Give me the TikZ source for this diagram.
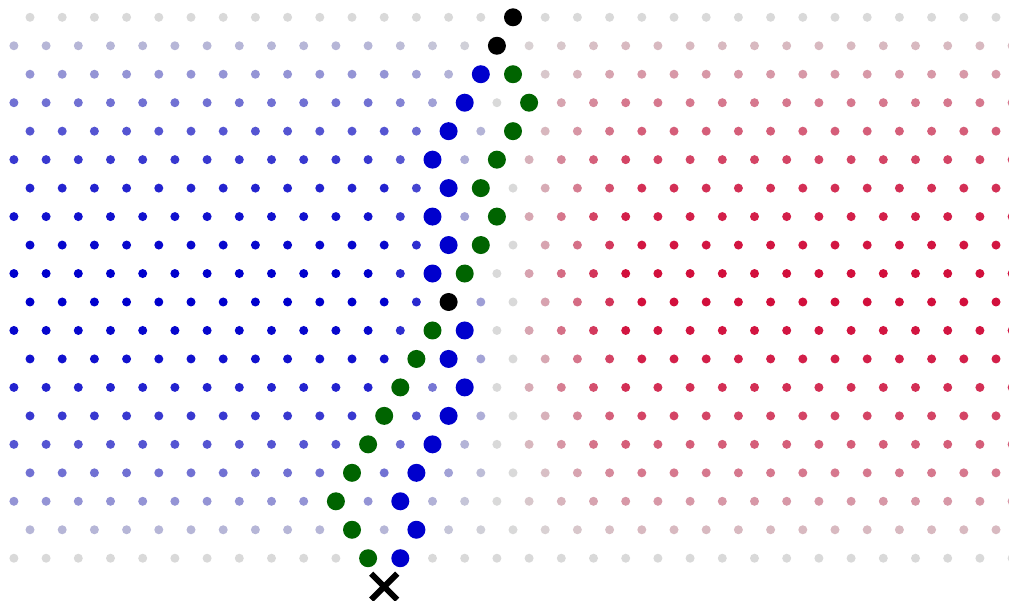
\documentclass[tikz,border=0pt]{standalone}
\usetikzlibrary{shapes.misc}
\definecolor{dotgray}{RGB}{217,217,217}
\definecolor{dotblue}{RGB}{0,0,205}
\definecolor{dotred}{RGB}{210,15,60}
\definecolor{pathgreen}{RGB}{0,100,0}
\begin{document}
\begin{tikzpicture}[x=1pt,y=-1pt,
  bigdot/.style={circle,inner sep=0pt,minimum size=18pt},
  startmark/.style={cross out,draw=black,line width=6pt,inner sep=0pt,minimum size=20pt}]
\useasboundingbox (0,0) rectangle (1009,601);
\begin{scope}
\clip (0,0) rectangle (1009,601);
\foreach \r in {0,...,19}{
  \pgfmathsetmacro{\rf}{sin(180*\r/19)}
  \pgfmathtruncatemacro{\rp}{mod(\r,2)}
  \pgfmathsetmacro{\xo}{\rp==0 ? 30 : 13.9}
  \pgfmathtruncatemacro{\kmax}{\rp==0 ? 30 : 31}
  \foreach \k in {0,...,\kmax}{
    \pgfmathsetmacro{\dd}{abs(\k-15)}
    \pgfmathtruncatemacro{\tint}{round(100*\rf*min(1,0.27*\dd))}
    \ifnum\k<15 \def\cc{dotblue}\else\def\cc{dotred}\fi
    \colorlet{dc}{\cc!\tint!dotgray}
    \fill[dc] (\xo+32.2*\k, 17.3+28.47*\r) circle (4.5);
  }
}
\end{scope}
% path dots
\foreach \nm/\r/\k/\col in {
  k0/0/15/black, k1/1/15/black, k10/10/13/black,
  b2/2/14/dotblue, b3/3/14/dotblue, b4/4/13/dotblue, b5/5/13/dotblue,
  b6/6/13/dotblue, b7/7/13/dotblue, b8/8/13/dotblue, b9/9/13/dotblue,
  b11/11/14/dotblue, b12/12/13/dotblue, b13/13/14/dotblue, b14/14/13/dotblue,
  b15/15/13/dotblue, b16/16/12/dotblue, b17/17/12/dotblue, b18/18/12/dotblue,
  b19/19/12/dotblue,
  g2/2/15/pathgreen, g3/3/16/pathgreen, g4/4/15/pathgreen, g5/5/15/pathgreen,
  g6/6/14/pathgreen, g7/7/15/pathgreen, g8/8/14/pathgreen, g9/9/14/pathgreen,
  g11/11/13/pathgreen, g12/12/12/pathgreen, g13/13/12/pathgreen, g14/14/11/pathgreen,
  g15/15/11/pathgreen, g16/16/10/pathgreen, g17/17/10/pathgreen, g18/18/10/pathgreen,
  g19/19/11/pathgreen}{
  \pgfmathtruncatemacro{\rp}{mod(\r,2)}
  \pgfmathsetmacro{\xo}{\rp==0 ? 30 : 13.9}
  \node[bigdot,fill=\col] (\nm) at (\xo+32.2*\k, 17.3+28.47*\r) {};
}
\node[startmark] (start) at (30+32.2*11, 17.3+28.47*20) {};
\end{tikzpicture}
\end{document}
